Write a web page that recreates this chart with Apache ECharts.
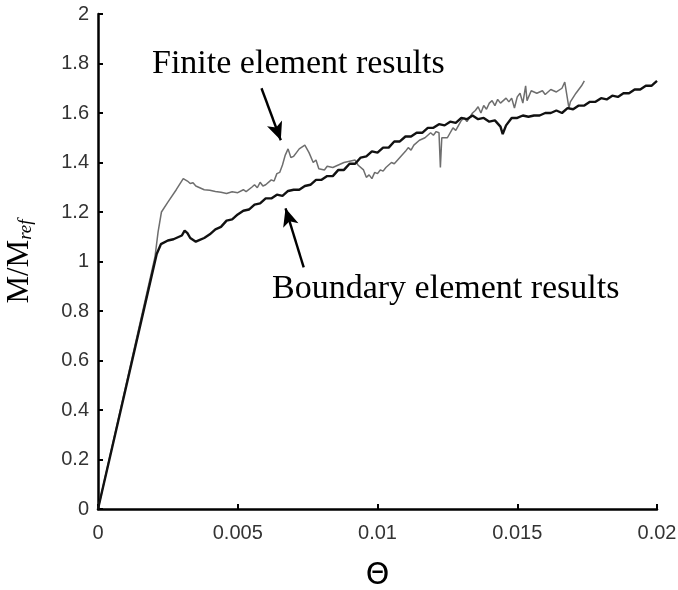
<!DOCTYPE html>
<html><head><meta charset="utf-8">
<script src="https://cdn.jsdelivr.net/npm/echarts@6/dist/echarts.min.js"></script>
<style>html,body{margin:0;padding:0;background:#fff}#c{width:678px;height:590px}</style>
</head><body><div id="c"></div>
<script>
const feTheta = [0,0.00204,0.00215,0.00227,0.0025,0.0028,0.00305,0.0032,0.0033,0.0034,0.0035,0.0036,0.0038,0.004,0.0042,0.0044,0.0046,0.0048,0.005,0.0052,0.0053,0.0055,0.0056,0.0057,0.0058,0.0059,0.006,0.0062,0.0063,0.0064,0.0065,0.0066,0.0067,0.0068,0.0069,0.007,0.0071,0.0072,0.0074,0.00755,0.0077,0.0078,0.0079,0.0081,0.0082,0.0084,0.0086,0.0088,0.009,0.0092,0.0093,0.0095,0.0096,0.0097,0.0098,0.0099,0.01,0.0101,0.0102,0.0103,0.0105,0.0106,0.0108,0.011,0.0111,0.0112,0.0113,0.0115,0.0117,0.0119,0.012,0.0121,0.0122,0.01225,0.0123,0.0125,0.0127,0.0128,0.013,0.0131,0.0132,0.0134,0.0135,0.0136,0.0137,0.0138,0.0139,0.014,0.0141,0.0142,0.0143,0.0144,0.0146,0.0147,0.0148,0.0149,0.015,0.0151,0.0152,0.0153,0.01535,0.0155,0.0157,0.0159,0.016,0.0162,0.0164,0.0166,0.0167,0.01685,0.0169,0.0171,0.0173,0.0174];
const feM = [0,1.02,1.12,1.20,1.24,1.29,1.335,1.325,1.315,1.318,1.305,1.30,1.29,1.288,1.283,1.28,1.275,1.282,1.278,1.29,1.282,1.30,1.31,1.298,1.32,1.305,1.31,1.33,1.325,1.355,1.36,1.39,1.43,1.455,1.42,1.425,1.44,1.455,1.47,1.44,1.40,1.41,1.375,1.37,1.385,1.38,1.39,1.40,1.405,1.41,1.39,1.37,1.34,1.35,1.335,1.36,1.355,1.37,1.365,1.38,1.40,1.395,1.42,1.445,1.46,1.45,1.47,1.49,1.50,1.52,1.51,1.525,1.52,1.38,1.50,1.50,1.54,1.53,1.57,1.58,1.565,1.60,1.61,1.625,1.60,1.63,1.615,1.64,1.65,1.63,1.655,1.64,1.66,1.645,1.66,1.62,1.665,1.68,1.64,1.71,1.65,1.69,1.68,1.69,1.675,1.695,1.685,1.70,1.725,1.62,1.645,1.68,1.71,1.73];
const beTheta = [0,0.0021,0.00225,0.0025,0.0027,0.0029,0.003,0.0031,0.0032,0.0033,0.0035,0.0036,0.0038,0.004,0.0042,0.0044,0.0046,0.0048,0.005,0.0052,0.0054,0.0056,0.0058,0.006,0.0062,0.0064,0.0066,0.0068,0.007,0.0072,0.0074,0.0076,0.0078,0.008,0.0082,0.0084,0.0086,0.0088,0.009,0.0092,0.0094,0.0096,0.0098,0.01,0.0102,0.0104,0.0106,0.0108,0.011,0.0112,0.0114,0.0116,0.0118,0.012,0.0122,0.0124,0.0126,0.0128,0.013,0.0132,0.0134,0.0136,0.0138,0.014,0.0142,0.0144,0.01448,0.0146,0.0148,0.015,0.0152,0.0154,0.0156,0.0158,0.016,0.0162,0.0164,0.0166,0.0168,0.017,0.0172,0.0174,0.0176,0.0178,0.018,0.0182,0.0184,0.0186,0.0188,0.019,0.0192,0.0194,0.0196,0.0198,0.02];
const beM = [0,1.03,1.07,1.085,1.09,1.10,1.105,1.125,1.115,1.095,1.08,1.085,1.095,1.11,1.13,1.14,1.165,1.17,1.19,1.205,1.21,1.23,1.235,1.255,1.255,1.27,1.265,1.285,1.29,1.29,1.305,1.31,1.33,1.33,1.345,1.345,1.37,1.37,1.395,1.395,1.42,1.425,1.445,1.44,1.46,1.46,1.485,1.485,1.505,1.505,1.52,1.52,1.54,1.54,1.555,1.55,1.565,1.56,1.58,1.575,1.59,1.575,1.58,1.565,1.57,1.545,1.515,1.55,1.58,1.58,1.59,1.585,1.59,1.59,1.60,1.60,1.61,1.60,1.62,1.615,1.63,1.63,1.645,1.645,1.66,1.655,1.67,1.665,1.68,1.68,1.695,1.695,1.71,1.71,1.73];
const xTicks = [0,0.005,0.01,0.015,0.02];
const yTicks = [0,0.2,0.4,0.6,0.8,1,1.2,1.4,1.6,1.8,2];
const feLabel = 'Finite element results';
const beLabel = 'Boundary element results';
const feArrow = [[0.00585,1.70],[0.00654,1.49]];
const beArrow = [[0.00736,0.976],[0.00671,1.215]];

const zip = (a,b)=>a.map((v,i)=>[v,b[i]]);
const chart = echarts.init(document.getElementById('c'));
const lblStyle = {color:'#333',fontFamily:'Liberation Sans, Arial, sans-serif',fontSize:20};
const axisCommon = {
  axisLine:{show:true,onZero:false,lineStyle:{color:'#000',width:2.5}},
  axisTick:{show:true,inside:true,length:5,lineStyle:{color:'#000',width:2}},
  splitLine:{show:false}
};
chart.setOption({
  animation:false,
  grid:{left:98,right:21,top:14,bottom:81,containLabel:false,outerBoundsMode:'none'},
  xAxis:Object.assign({type:'value',min:0,max:0.02,interval:0.005,
    name:'Θ',nameLocation:'middle',nameGap:52,
    nameTextStyle:{color:'#000',fontSize:30,fontFamily:'DejaVu Sans, sans-serif'}},axisCommon,
    {axisLabel:Object.assign({},lblStyle,{margin:14,formatter:v=>String(+v.toFixed(3))})}),
  yAxis:Object.assign({type:'value',min:0,max:2,interval:0.2,
    name:'{a|M/M}{b|ref}',nameLocation:'middle',nameRotate:90,nameGap:63,
    nameTextStyle:{rich:{
      a:{fontFamily:'Liberation Serif, Times New Roman, serif',fontSize:31,color:'#000'},
      b:{fontFamily:'Liberation Serif, Times New Roman, serif',fontSize:19,fontStyle:'italic',color:'#000',verticalAlign:'bottom',padding:[12,0,0,0]}
    }}},axisCommon,
    {axisLabel:Object.assign({},lblStyle,{margin:9,formatter:v=>String(+v.toFixed(1))})}),
  series:[
    {type:'line',data:zip(feTheta,feM),showSymbol:false,symbol:'none',
     lineStyle:{color:'#6e6e6e',width:1.5},z:2},
    {type:'line',data:zip(beTheta,beM),showSymbol:false,symbol:'none',
     lineStyle:{color:'#111',width:2.4},z:3,
     markLine:{silent:true,symbol:['none','arrow'],symbolSize:[12,18],
       label:{show:false},
       lineStyle:{color:'#000',width:2.4,type:'solid'},
       data:[
         [{coord:feArrow[0]},{coord:feArrow[1]}],
         [{coord:beArrow[0]},{coord:beArrow[1]}]
       ]}}
  ],
  graphic:[
    {type:'text',left:152,top:47,style:{text:feLabel,fill:'#000',font:'34px "Liberation Serif", "Times New Roman", serif'}},
    {type:'text',left:272,top:272,style:{text:beLabel,fill:'#000',font:'34px "Liberation Serif", "Times New Roman", serif'}}
  ]
});
</script></body></html>
